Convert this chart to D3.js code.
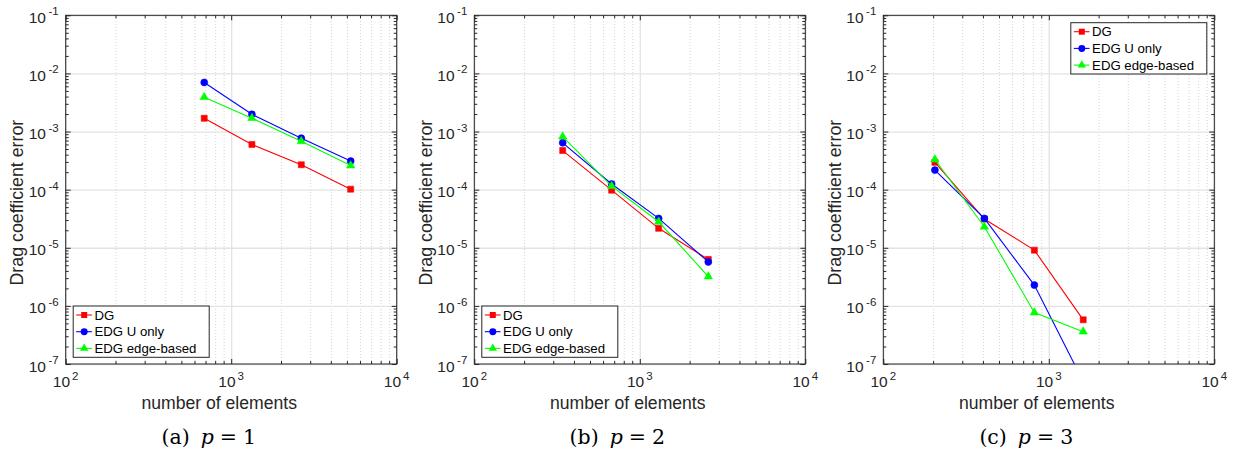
<!DOCTYPE html>
<html>
<head>
<meta charset="utf-8">
<script src="https://cdn.jsdelivr.net/npm/d3@7"></script>
<style>
  body { margin: 0; background: #fff; }
  svg { display: block; font-family: "Liberation Sans", Arial, sans-serif; }
</style>
</head>
<body>
<svg id="chart" width="1237" height="458"></svg>
<script>
const xTicks = [1e2, 1e3, 1e4];
const yTicks = [1e-7, 1e-6, 1e-5, 1e-4, 1e-3, 1e-2, 1e-1];
const seriesNames = ["DG", "EDG U only", "EDG edge-based"];
const seriesColors = ["#ff0000", "#0000ff", "#00ff00"];

// p = 1
const elemsP1 = [687, 1334, 2652, 5272];
const dgP1 = [1.69e-3, 6.0e-4, 2.68e-4, 1.02e-4];
const edgUP1 = [7.0e-3, 1.98e-3, 7.7e-4, 3.1e-4];
const edgEdgeP1 = [3.9e-3, 1.7e-3, 6.8e-4, 2.6e-4];

// p = 2
const elemsP2 = [342, 676, 1300, 2594];
const dgP2 = [4.7e-4, 9.8e-5, 2.16e-5, 6.3e-6];
const edgUP2 = [6.4e-4, 1.25e-4, 3.2e-5, 5.7e-6];
const edgEdgeP2 = [8.2e-4, 1.15e-4, 2.8e-5, 3.2e-6];

// p = 3
const elemsP3 = [205, 408, 818, 1614];
const dgP3 = [2.95e-4, 3.12e-5, 9.1e-6, 5.75e-7];
const edgUP3 = [2.17e-4, 3.2e-5, 2.28e-6, 5.0e-8];
const edgEdgeP3 = [3.3e-4, 2.3e-5, 7.7e-7, 3.6e-7];

const plotTop = 15.3, plotBottom = 364, plotW = 331;
const svg = d3.select("#chart");

function minorValues(lo, hi) {
  const out = [];
  for (let k = lo; k < hi; k++) {
    for (let m = 2; m <= 9; m++) out.push(m * Math.pow(10, k));
  }
  return out;
}
const xMinor = minorValues(2, 4);
const yMinor = minorValues(-7, -1);

function drawPanel(id, left, label, pValue, elems, dg, edgU, edgEdge, legendPos) {
  const right = left + plotW;
  const x = d3.scaleLog().domain([1e2, 1e4]).range([left, right]);
  const y = d3.scaleLog().domain([1e-7, 1e-1]).range([plotBottom, plotTop]);
  const g = svg.append("g");
  const h = plotBottom - plotTop;

  // grids
  const gridMinor = g.append("g").attr("transform", `translate(0,${plotBottom})`)
    .call(d3.axisBottom(x).tickValues(xMinor).tickSize(-h).tickFormat(""));
  gridMinor.select(".domain").remove();
  gridMinor.selectAll("line").attr("stroke", "#d4d4d4").attr("stroke-dasharray", "1,2");

  const gridX = g.append("g").attr("transform", `translate(0,${plotBottom})`)
    .call(d3.axisBottom(x).tickValues(xTicks).tickSize(-h).tickFormat(""));
  const gridY = g.append("g").attr("transform", `translate(${left},0)`)
    .call(d3.axisLeft(y).tickValues(yTicks).tickSize(-plotW).tickFormat(""));
  [gridX, gridY].forEach((a) => {
    a.select(".domain").remove();
    a.selectAll("line").attr("stroke", "#e3e3e3").attr("stroke-width", 1.3);
  });

  // ticks on all four sides, pointing inward
  const tickAxes = [
    [d3.axisBottom(x), `translate(0,${plotBottom})`, xTicks, xMinor],
    [d3.axisTop(x), `translate(0,${plotTop})`, xTicks, xMinor],
    [d3.axisLeft(y), `translate(${left},0)`, yTicks, yMinor],
    [d3.axisRight(y), `translate(${right},0)`, yTicks, yMinor],
  ];
  tickAxes.forEach(([axis, tr, major, minor]) => {
    [[major, -5], [minor, -3]].forEach(([vals, size]) => {
      const a = g.append("g").attr("transform", tr)
        .call(axis.tickValues(vals).tickSize(size).tickSizeOuter(0).tickFormat(""));
      a.select(".domain").remove();
      a.selectAll("line").attr("stroke", "#262626");
    });
  });

  g.append("rect")
    .attr("x", left).attr("y", plotTop)
    .attr("width", plotW).attr("height", h)
    .attr("fill", "none").attr("stroke", "#262626").attr("stroke-width", 1);

  // tick labels
  xTicks.forEach((t) => {
    const txt = g.append("text")
      .attr("x", x(t)).attr("y", plotBottom + 23)
      .attr("text-anchor", "middle")
      .attr("font-size", 15.5).attr("fill", "#262626")
      .text("10");
    txt.append("tspan").attr("dx", 2).attr("dy", -7.5).attr("font-size", 11.5)
      .text(Math.round(Math.log10(t)));
  });
  yTicks.forEach((t) => {
    const txt = g.append("text")
      .attr("x", left - 7).attr("y", y(t) + 7.5)
      .attr("text-anchor", "end")
      .attr("font-size", 15.5).attr("fill", "#262626")
      .text("10");
    txt.append("tspan").attr("dx", 2.5).attr("dy", -7.5).attr("font-size", 11.5)
      .text(Math.round(Math.log10(t)));
  });

  // axis labels
  g.append("text")
    .attr("x", (left + right) / 2 - 12).attr("y", 409)
    .attr("text-anchor", "middle")
    .attr("font-size", 17.6).attr("fill", "#262626")
    .text("number of elements");
  g.append("text")
    .attr("transform", `translate(${left - 42.5},${(plotTop + plotBottom) / 2 + 13}) rotate(-90)`)
    .attr("text-anchor", "middle")
    .attr("font-size", 17.8).attr("fill", "#262626")
    .text("Drag coefficient error");

  // caption
  const cap = g.append("text")
    .attr("x", left + 143).attr("y", 444)
    .attr("text-anchor", "middle")
    .attr("font-family", "'DejaVu Serif', serif")
    .attr("font-size", 20.5).attr("fill", "#000");
  cap.append("tspan").text(`(${label})`);
  cap.append("tspan").attr("dx", 11).attr("font-style", "italic").text("p");
  cap.append("tspan").attr("dx", 6).text("=");
  cap.append("tspan").attr("dx", 6).text(pValue);

  // data
  g.append("clipPath").attr("id", `clip-${id}`)
    .append("rect").attr("x", left).attr("y", plotTop)
    .attr("width", plotW).attr("height", h);
  const plot = g.append("g").attr("clip-path", `url(#clip-${id})`);

  const symbols = [d3.symbolSquare, d3.symbolCircle, d3.symbolTriangle];
  const sizes = [36, 38, 30];
  const series = [dg, edgU, edgEdge];
  const line = d3.line().x((d) => x(d[0])).y((d) => y(d[1]));

  series.forEach((vals, i) => {
    const pts = elems.map((n, j) => [n, vals[j]]);
    plot.append("path")
      .attr("d", line(pts))
      .attr("fill", "none")
      .attr("stroke", seriesColors[i])
      .attr("stroke-width", 1.1);
    plot.selectAll(null)
      .data(pts)
      .enter()
      .append("path")
      .attr("transform", (d) => `translate(${x(d[0])},${y(d[1])})`)
      .attr("d", d3.symbol().type(symbols[i]).size(sizes[i]))
      .attr("fill", seriesColors[i])
      .attr("stroke", seriesColors[i])
      .attr("stroke-width", 0.6);
  });

  // legend
  const lx = legendPos === "sw" ? left + 7.5 : right - 143.5;
  const ly = legendPos === "sw" ? 306 : plotTop + 7.4;
  const leg = g.append("g").attr("transform", `translate(${lx},${ly})`);
  leg.append("rect")
    .attr("width", 136).attr("height", 51.3)
    .attr("fill", "#fff").attr("stroke", "#262626").attr("stroke-width", 1);
  seriesNames.forEach((name, i) => {
    const ry = 9 + i * 16.7;
    leg.append("line")
      .attr("x1", 3).attr("x2", 18.7).attr("y1", ry).attr("y2", ry)
      .attr("stroke", seriesColors[i]).attr("stroke-width", 1.1);
    leg.append("path")
      .attr("transform", `translate(11,${ry})`)
      .attr("d", d3.symbol().type(symbols[i]).size(sizes[i]))
      .attr("fill", seriesColors[i]);
    leg.append("text")
      .attr("x", 21.3).attr("y", ry + 4.6)
      .attr("font-size", 13.2).attr("fill", "#000")
      .text(name);
  });
}

drawPanel("a", 65.7, "a", "1", elemsP1, dgP1, edgUP1, edgEdgeP1, "sw");
drawPanel("b", 474.3, "b", "2", elemsP2, dgP2, edgUP2, edgEdgeP2, "sw");
drawPanel("c", 883.3, "c", "3", elemsP3, dgP3, edgUP3, edgEdgeP3, "ne");
</script>
</body>
</html>
